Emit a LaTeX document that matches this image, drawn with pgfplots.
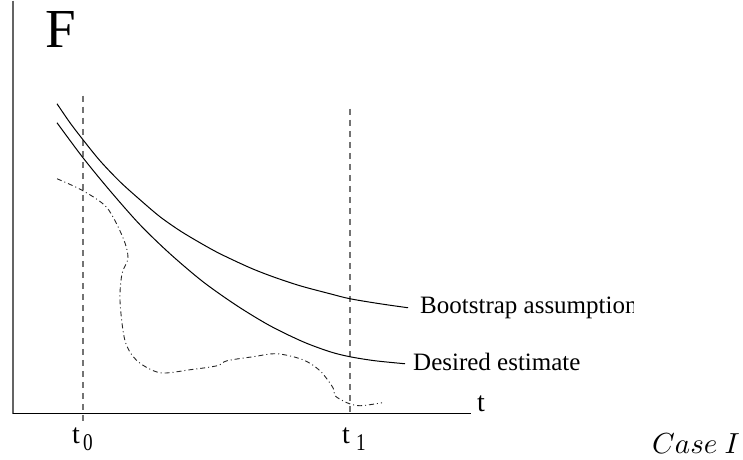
\documentclass[border=0pt]{standalone}
\usepackage{fontspec}
\setmainfont{Liberation Serif}
\usepackage{pgfplots}
\pgfplotsset{compat=1.18}
\usepackage{graphicx}

\definecolor{axgray}{RGB}{100,100,100}
\definecolor{dashgray}{RGB}{115,115,115}

\begin{document}
\begin{tikzpicture}
\begin{axis}[
x=1pt, y=1pt,
xmin=0, xmax=743,
ymin=0, ymax=459,
y dir=reverse,
hide axis,
clip=false,
]
% frame for the bounding box
\addplot [draw=none, forget plot] coordinates {(0,0) (743,459)};

% axes
\addplot [axgray, line width=1.5pt] coordinates {(13,0) (13,413)};
\addplot [black, line width=1.3pt] coordinates {(13,413) (471,413)};

% t0 and t1 markers
\addplot [dashgray, line width=1.6pt, dash pattern=on 6pt off 5pt] coordinates {(83,95) (83,421)};
\addplot [dashgray, line width=1.6pt, dash pattern=on 6pt off 5pt] coordinates {(350,108) (350,413)};

% bootstrap assumption
\addplot [black, line width=1pt, smooth] coordinates {
(57,103) (70,122) (83,139) (100,160) (120,181) (140,199) (160,216)
(180,230) (200,242) (220,253) (250,267) (273,276) (300,285)
(330,293) (350,298) (380,303) (408,307)
};
% desired estimate
\addplot [black, line width=1pt, smooth] coordinates {
(57,122) (83,157) (110,190) (140,224) (170,253) (203,281) (237,305)
(270,325) (303,341) (330,351) (350,356) (375,360) (405,363)
};
% actual
\addplot [black!85, line width=0.9pt, smooth, dash pattern=on 5pt off 3pt on 1pt off 3pt] coordinates {
(57,178) (83,190) (107,207) (123,237) (128,257) (122,273) (120,300)
(125,340) (137,360) (160,372) (190,369) (217,365) (227,360) (253,356)
(277,353) (303,359) (320,370) (333,387) (335,395) (347,402) (360,405) (382,402)
};

\node [anchor=base west, inner sep=0pt, font=\fontsize{55}{55}\selectfont] at (axis cs:45,47) {F};
\node [anchor=base west, inner sep=0pt, font=\fontsize{25}{25}\selectfont] at (axis cs:420,313) {Bootstrap assumption};
\fill [white] (axis cs:634,288) rectangle (axis cs:650,320);
\node [anchor=base west, inner sep=0pt, font=\fontsize{25}{25}\selectfont] at (axis cs:413,370) {Desired estimate};

\node [anchor=base west, inner sep=0pt, font=\fontsize{28}{28}\selectfont] at (axis cs:477,411) {t};
\node [anchor=base west, inner sep=0pt, font=\fontsize{28}{28}\selectfont] at (axis cs:72,443) {t};
\node [anchor=base west, inner sep=0pt, font=\fontsize{24}{24}\selectfont] at (axis cs:83,450) {\scalebox{0.8}[1]{0}};
\node [anchor=base west, inner sep=0pt, font=\fontsize{28}{28}\selectfont] at (axis cs:342,443) {t};
\node [anchor=base west, inner sep=0pt, font=\fontsize{24}{24}\selectfont] at (axis cs:356,450) {\scalebox{0.8}[1]{1}};

\node [anchor=base west, inner sep=0pt] at (axis cs:652,453) {\scalebox{2.9}{$Case\ I$}};
\end{axis}
\end{tikzpicture}
\end{document}
